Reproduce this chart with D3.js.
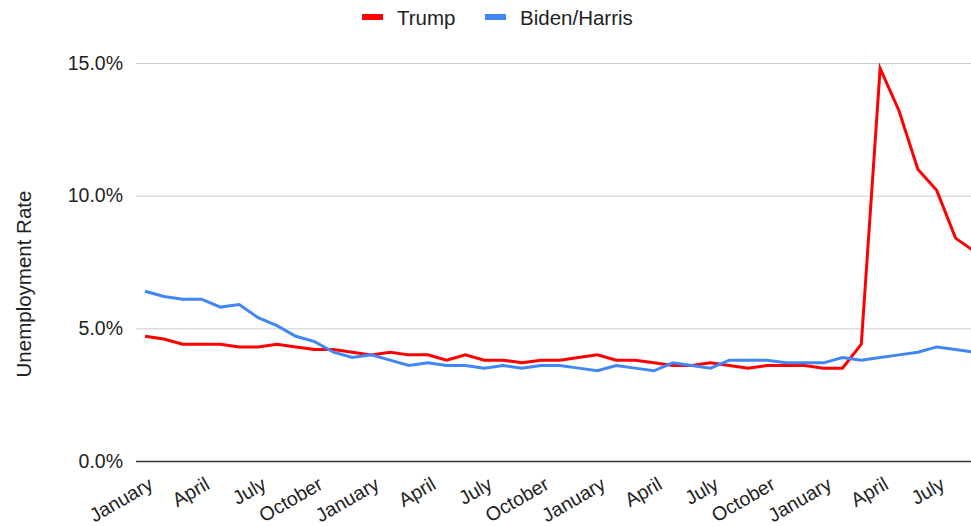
<!DOCTYPE html>
<html><head><meta charset="utf-8">
<script src="https://cdn.jsdelivr.net/npm/d3@7"></script>
<style>
body{margin:0;background:#fff;overflow:hidden}
text{font-family:"Liberation Sans",Arial,sans-serif}
</style></head>
<body><svg id="c" width="971" height="526"></svg>
<script>
const months = d3.range(45);
const tickIdx = [0,3,6,9,12,15,18,21,24,27,30,33,36,39,42];
const tickLabels = ["January","April","July","October","January","April","July","October","January","April","July","October","January","April","July"];
const yTicks = [0,5,10,15];
const trump = [4.7,4.6,4.4,4.4,4.4,4.3,4.3,4.4,4.3,4.2,4.2,4.1,
               4.0,4.1,4.0,4.0,3.8,4.0,3.8,3.8,3.7,3.8,3.8,3.9,
               4.0,3.8,3.8,3.7,3.6,3.6,3.7,3.6,3.5,3.6,3.6,3.6,
               3.5,3.5,4.4,14.8,13.2,11.0,10.2,8.4,7.9];
const biden = [6.4,6.2,6.1,6.1,5.8,5.9,5.4,5.1,4.7,4.5,4.1,3.9,
               4.0,3.8,3.6,3.7,3.6,3.6,3.5,3.6,3.5,3.6,3.6,3.5,
               3.4,3.6,3.5,3.4,3.7,3.6,3.5,3.8,3.8,3.8,3.7,3.7,
               3.7,3.9,3.8,3.9,4.0,4.1,4.3,4.2,4.1];
const seriesNames = ["Trump","Biden/Harris"];
const colors = ["#ff0000","#4285f4"];

const svg = d3.select("#c");
const x = d3.scaleLinear().domain([0,44]).range([145, 974.4]);
const y = d3.scaleLinear().domain([0,15]).range([461, 63]);
const gridLeft = 136, gridRight = 975;

// gridlines + y labels
const ya = svg.append("g").attr("transform",`translate(${gridLeft},0)`)
  .call(d3.axisLeft(y).tickValues(yTicks).tickSize(-(gridRight-gridLeft)).tickPadding(13)
        .tickFormat(d=>d3.format(".1f")(d)+"%"));
ya.select(".domain").remove();
ya.selectAll(".tick line").attr("stroke",d=>d===0?"#333":"#cccccc").attr("stroke-width",d=>d===0?1.6:1);
ya.selectAll(".tick text").attr("font-size",19.5).attr("fill","#222").attr("font-family","Liberation Sans, Arial, sans-serif");

// x axis labels
const xa = svg.append("g").attr("transform","translate(0,461)")
  .call(d3.axisBottom(x).tickValues(tickIdx).tickSize(0).tickFormat((d,i)=>tickLabels[i]));
xa.select(".domain").remove();
xa.selectAll(".tick text")
  .attr("font-size",19.5).attr("fill","#222").attr("font-family","Liberation Sans, Arial, sans-serif")
  .attr("text-anchor","end").attr("dy",null).attr("y",null)
  .attr("transform","translate(9,27) rotate(-30)");

// lines
const line = d3.line().x((d,i)=>x(i)).y(d=>y(d));
[trump,biden].forEach((s,k)=>{
  svg.append("path").datum(s).attr("d",line).attr("fill","none")
    .attr("stroke",colors[k]).attr("stroke-width",3)
    .attr("stroke-linejoin","miter").attr("stroke-miterlimit",10);
});

// legend
const leg = [{x:362,tx:397},{x:485,tx:520}];
seriesNames.forEach((n,k)=>{
  svg.append("rect").attr("x",leg[k].x).attr("y",14).attr("width",21).attr("height",6).attr("fill",colors[k]);
  svg.append("text").attr("x",leg[k].tx).attr("y",24.5).attr("font-size",20.5).attr("fill","#222").text(n);
});

// y title
svg.append("text").attr("transform","translate(31,284) rotate(-90)").attr("text-anchor","middle")
  .attr("font-size",20.5).attr("fill","#222").text("Unemployment Rate");
</script></body></html>
